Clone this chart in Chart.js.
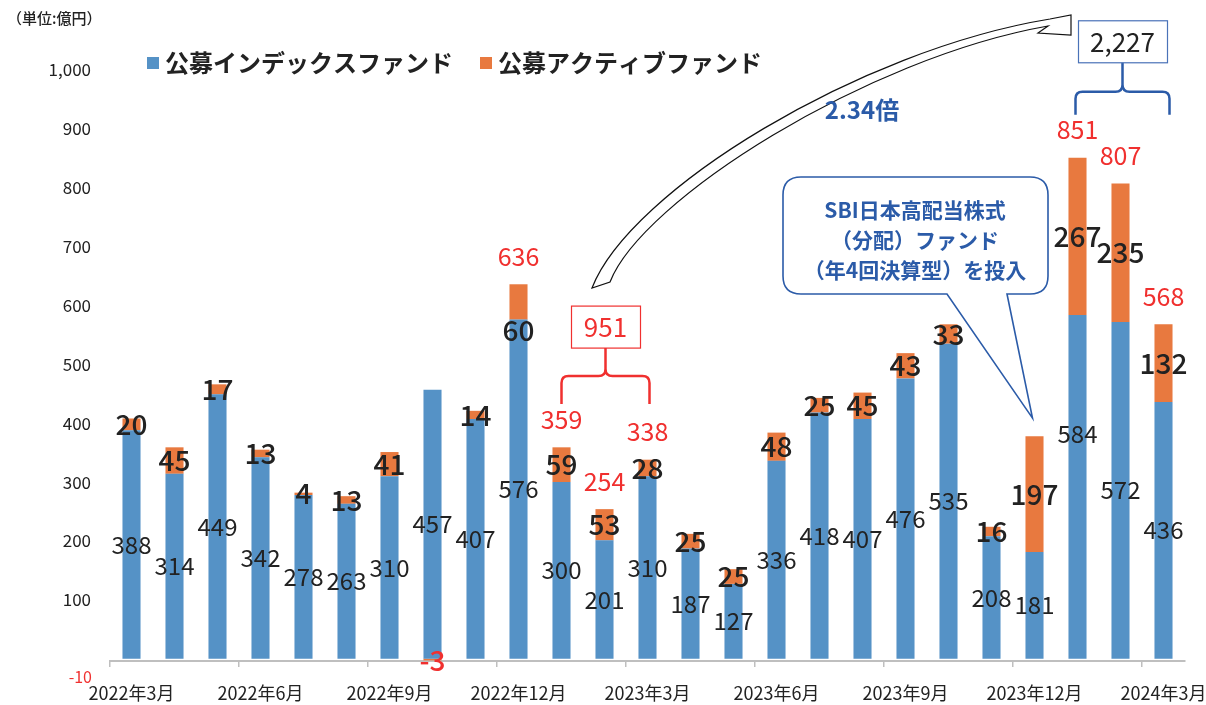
<!DOCTYPE html>
<html>
<head>
<meta charset="utf-8">
<script src="https://cdn.jsdelivr.net/npm/chart.js@4"></script>
<style>
  body { margin: 0; background: #fff; }
  #wrap { width: 1206px; height: 705px; position: relative; }
</style>
</head>
<body>
<div id="wrap"><canvas id="flowChart"></canvas></div>
<script>
// 月次資金流入額（億円）
const months = ['2022年3月','2022年4月','2022年5月','2022年6月','2022年7月','2022年8月','2022年9月',
  '2022年10月','2022年11月','2022年12月','2023年1月','2023年2月','2023年3月','2023年4月','2023年5月',
  '2023年6月','2023年7月','2023年8月','2023年9月','2023年10月','2023年11月','2023年12月',
  '2024年1月','2024年2月','2024年3月'];
const indexFlow  = [388,314,449,342,278,263,310,457,407,576,300,201,310,187,127,336,418,407,476,535,208,181,584,572,436];
const activeFlow = [20,45,17,13,4,13,41,-3,14,60,59,53,28,25,25,48,25,45,43,33,16,197,267,235,132];
const yTicks = [100,200,300,400,500,600,700,800,900,1000];
// 合計を赤字で表示する月
const totalShown = [9,10,11,12,22,23,24];
// 3か月合計（元資料の表示値）
const periodTotals = ['951', '2,227'];

const FONT = '"Noto Sans CJK JP", "Noto Sans", sans-serif';
const BLUE = '#5592c6', ORANGE = '#e8793f', RED = '#f0302f', NAVY = '#2b5ba8', INK = '#222';

function brace(ctx, xl, xr, yH, legLen, yStemTop, r) {
  const xm = (xl + xr) / 2;
  ctx.beginPath();
  ctx.moveTo(xl, yH + legLen);
  ctx.lineTo(xl, yH + r);
  ctx.quadraticCurveTo(xl, yH, xl + r, yH);
  ctx.lineTo(xm - r, yH);
  ctx.quadraticCurveTo(xm, yH, xm, yH - r);
  ctx.lineTo(xm, yStemTop);
  ctx.moveTo(xm, yH - r);
  ctx.quadraticCurveTo(xm, yH, xm + r, yH);
  ctx.lineTo(xr - r, yH);
  ctx.quadraticCurveTo(xr, yH, xr, yH + r);
  ctx.lineTo(xr, yH + legLen);
  ctx.stroke();
}

const decor = {
  id: 'decor',
  afterDraw(chart) {
    const ctx = chart.ctx;
    const y = chart.scales.y;
    const m0 = chart.getDatasetMeta(0).data;
    const m1 = chart.getDatasetMeta(1).data;
    ctx.save();
    ctx.textBaseline = 'middle';

    // 単位
    ctx.fillStyle = INK;
    ctx.font = '500 15px ' + FONT;
    ctx.textAlign = 'left';
    ctx.fillText('（単位:億円）', 7, 18);
    // -10 ラベル
    ctx.fillStyle = RED;
    ctx.font = '16px ' + FONT;
    ctx.textAlign = 'right';
    ctx.fillText('-10', 92, 677);

    // 凡例
    ctx.textAlign = 'left';
    ctx.font = 'bold 24px ' + FONT;
    [[BLUE, '公募インデックスファンド', 147], [ORANGE, '公募アクティブファンド', 480]].forEach(([c, t, x]) => {
      ctx.fillStyle = c;
      ctx.fillRect(x, 57, 12, 12);
      ctx.fillStyle = INK;
      ctx.fillText(t, x + 18, 63);
    });

    // データラベル
    ctx.textAlign = 'center';
    ctx.font = '24px ' + FONT;
    ctx.fillStyle = INK;
    m0.forEach((b, i) => {
      const cy = i === 22 ? y.getPixelForValue(382) : (b.y + b.base) / 2;
      ctx.fillText(indexFlow[i], b.x, cy);
    });
    ctx.font = '500 28px ' + FONT;
    m1.forEach((b, i) => {
      const cy = i === 9 ? y.getPixelForValue(558) : (b.y + b.base) / 2;
      ctx.fillStyle = activeFlow[i] < 0 ? RED : INK;
      ctx.fillText(activeFlow[i], b.x, cy + (activeFlow[i] < 0 ? 1 : 0));
    });
    ctx.font = '25px ' + FONT;
    ctx.fillStyle = RED;
    totalShown.forEach(i => {
      const b = m1[i];
      ctx.fillText(indexFlow[i] + activeFlow[i], b.x, Math.min(b.y, b.base) - 28);
    });

    // 951 括弧
    ctx.strokeStyle = RED;
    ctx.lineWidth = 2.5;
    const rH = y.getPixelForValue(480);
    brace(ctx, m1[10].x, m1[12].x + 2, rH, 28, rH - 28, 7);
    const rx = (m1[10].x + m1[12].x + 2) / 2;
    ctx.lineWidth = 1.2;
    ctx.strokeRect(rx - 34, rH - 70, 69, 42);
    ctx.fillStyle = RED;
    ctx.font = '26px ' + FONT;
    ctx.fillText(periodTotals[0], rx, rH - 49);

    // 2,227 括弧
    const bH = y.getPixelForValue(963);
    ctx.strokeStyle = NAVY;
    ctx.lineWidth = 2.5;
    brace(ctx, m1[22].x - 2, m1[24].x + 6, bH, 23, bH - 29, 7);
    const bx = (m1[22].x - 2 + m1[24].x + 6) / 2;
    ctx.strokeStyle = '#4a72b8';
    ctx.lineWidth = 1.2;
    ctx.strokeRect(bx - 44, bH - 71, 89, 42);
    ctx.fillStyle = INK;
    ctx.fillText(periodTotals[1], bx, bH - 50);

    // 曲線矢印
    ctx.beginPath();
    ctx.moveTo(592, 288);
    ctx.bezierCurveTo(630, 190, 860, 50, 1050, 19);
    ctx.lineTo(1071, 15);
    ctx.lineTo(1071, 35);
    ctx.lineTo(1038, 33);
    ctx.lineTo(1048, 26);
    ctx.bezierCurveTo(866, 58, 642, 200, 610, 282);
    ctx.closePath();
    ctx.fillStyle = '#fff';
    ctx.fill();
    ctx.strokeStyle = '#111';
    ctx.lineWidth = 1.2;
    ctx.stroke();
    ctx.fillStyle = NAVY;
    ctx.font = 'bold 24px ' + FONT;
    ctx.fillText('2.34倍', 862, 110);

    // 吹き出し
    const L = 783, T = 177, R = 1048, B = 294, r = 18;
    const tip = { x: m1[21].x - 2, y: Math.min(m1[21].y, m1[21].base) - 18 };
    ctx.beginPath();
    ctx.moveTo(L + r, T);
    ctx.lineTo(R - r, T);
    ctx.quadraticCurveTo(R, T, R, T + r);
    ctx.lineTo(R, B - r);
    ctx.quadraticCurveTo(R, B, R - r, B);
    ctx.lineTo(1007, B);
    ctx.lineTo(tip.x, tip.y);
    ctx.lineTo(947, B);
    ctx.lineTo(L + r, B);
    ctx.quadraticCurveTo(L, B, L, B - r);
    ctx.lineTo(L, T + r);
    ctx.quadraticCurveTo(L, T, L + r, T);
    ctx.closePath();
    ctx.fillStyle = '#fff';
    ctx.fill();
    ctx.strokeStyle = NAVY;
    ctx.lineWidth = 1.6;
    ctx.stroke();
    ctx.fillStyle = NAVY;
    ctx.font = 'bold 21px ' + FONT;
    ['SBI日本高配当株式', '（分配）ファンド', '（年4回決算型）を投入'].forEach((t, k) => {
      ctx.fillText(t, 915, 210 + k * 30);
    });
    ctx.restore();
  }
};

new Chart(document.getElementById('flowChart'), {
  type: 'bar',
  data: {
    labels: months,
    datasets: [
      { label: '公募インデックスファンド', data: indexFlow, backgroundColor: BLUE },
      { label: '公募アクティブファンド', data: activeFlow, backgroundColor: ORANGE }
    ]
  },
  options: {
    responsive: true,
    maintainAspectRatio: false,
    animation: false,
    layout: { padding: { top: 70, right: 21, left: 0, bottom: 0 } },
    datasets: { bar: { categoryPercentage: 1, barPercentage: 0.42 } },
    plugins: { legend: { display: false }, tooltip: { enabled: false } },
    scales: {
      x: {
        stacked: true,
        grid: {
          display: true, offset: true, drawOnChartArea: false, drawTicks: true, tickLength: 6,
          lineWidth: 1.5,
          color: c => (c.index !== undefined && c.index % 3 === 0) ? '#bfbfbf' : 'rgba(0,0,0,0)'
        },
        border: { display: true, color: '#bfbfbf', width: 2 },
        ticks: {
          autoSkip: false, maxRotation: 0, minRotation: 0, padding: 15,
          color: INK, font: { family: FONT, size: 18 },
          callback: (v, i) => i % 3 === 0 ? months[i] : ''
        },
        afterFit: s => { s.height = 44; s.paddingLeft = 0; s.paddingRight = 0; }
      },
      y: {
        stacked: true,
        min: -4,
        max: 1000,
        grid: { display: false, drawTicks: false },
        border: { display: false },
        afterBuildTicks: s => { s.ticks = yTicks.map(v => ({ value: v })); },
        ticks: {
          padding: 19,
          color: INK, font: { family: FONT, size: 17 },
          callback: v => v.toLocaleString('en-US')
        },
        afterFit: s => { s.width = 110; s.paddingTop = 0; s.paddingBottom = 0; }
      }
    }
  },
  plugins: [decor]
});
</script>
</body>
</html>
